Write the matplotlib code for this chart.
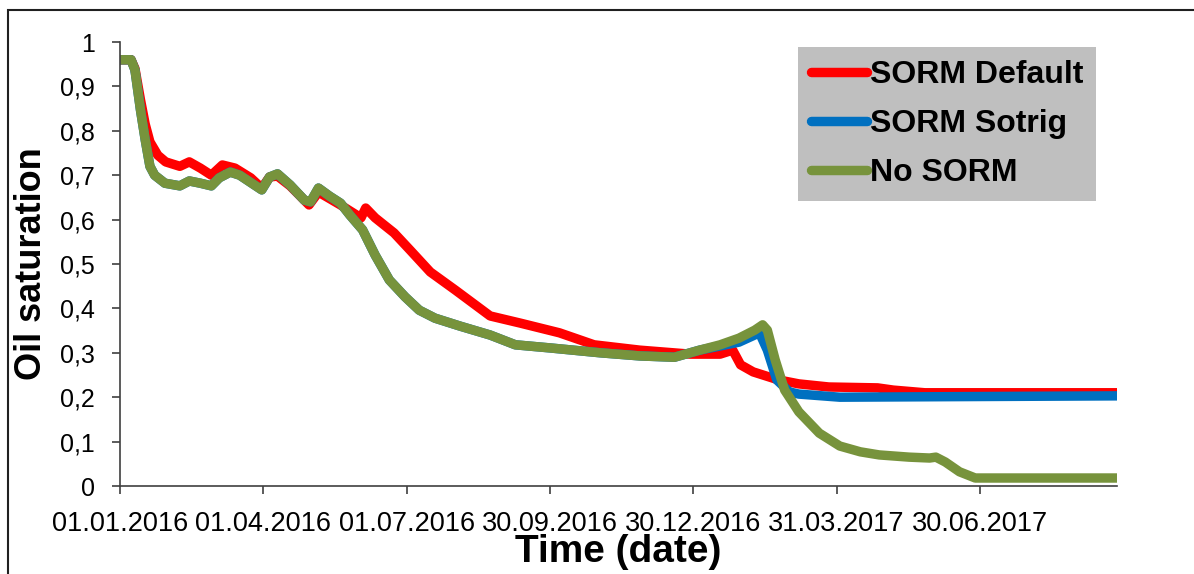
import numpy as np
import matplotlib
matplotlib.use("Agg")
import matplotlib.pyplot as plt
from matplotlib.patches import Rectangle

plt.rcParams['font.family'] = ['Liberation Sans', 'DejaVu Sans']

start = np.datetime64('2016-01-01')

# days since 01.01.2016 and oil saturation for each run
default_days = [0, 7, 9.5, 13, 16, 19, 24, 29, 38, 44, 51, 58, 65, 73, 83, 90, 95, 100, 108,
                120, 126, 140, 153, 156, 162, 174, 184, 197, 213, 235, 254, 279, 301, 330,
                362, 381, 389, 394, 402, 418, 431, 450, 481, 491, 511, 633]
default_vals = [0.96, 0.96, 0.94, 0.87, 0.815, 0.775, 0.745, 0.73, 0.72, 0.73, 0.716, 0.70,
                0.723, 0.716, 0.694, 0.671, 0.696, 0.698, 0.676, 0.633, 0.662, 0.633, 0.604,
                0.626, 0.604, 0.57, 0.532, 0.482, 0.441, 0.383, 0.367, 0.345, 0.318,
                0.306, 0.297, 0.297, 0.306, 0.273, 0.257, 0.239, 0.23, 0.223, 0.221,
                0.216, 0.21, 0.21]

sotrig_days = [0, 7, 9.5, 13, 16, 19, 22, 28.5, 38, 44, 51, 58, 63, 70, 76, 90, 95, 100,
               108, 117, 121, 126, 133, 140, 146, 154, 162, 171, 181, 190, 200, 216,
               235, 251, 273, 305, 330, 352, 368, 393, 406, 411, 417, 425, 431, 457, 633]
sotrig_vals = [0.96, 0.96, 0.937, 0.847, 0.78, 0.72, 0.70, 0.682, 0.676, 0.687, 0.682,
               0.676, 0.694, 0.707, 0.70, 0.667, 0.696, 0.703, 0.678, 0.644, 0.64,
               0.671, 0.653, 0.637, 0.61, 0.577, 0.52, 0.464, 0.426, 0.396, 0.378,
               0.36, 0.34, 0.318, 0.311, 0.30, 0.293, 0.29, 0.306, 0.324, 0.345,
               0.306, 0.239, 0.212, 0.207, 0.20, 0.203]

nosorm_days = [0, 7, 9.5, 13, 16, 19, 22, 28.5, 38, 44, 51, 58, 63, 70, 76, 90, 95, 100,
               108, 117, 121, 126, 133, 140, 146, 154, 162, 171, 181, 190, 200, 216,
               235, 251, 273, 305, 330, 352, 368, 381, 393, 403, 408, 411, 416, 422,
               431, 444, 457, 470, 482, 501, 514, 518, 524, 533, 543, 552, 633]
nosorm_vals = [0.96, 0.96, 0.937, 0.847, 0.78, 0.72, 0.70, 0.682, 0.676, 0.687, 0.682,
               0.676, 0.694, 0.707, 0.70, 0.667, 0.696, 0.703, 0.678, 0.644, 0.64,
               0.671, 0.653, 0.637, 0.61, 0.577, 0.52, 0.464, 0.426, 0.396, 0.378,
               0.36, 0.34, 0.318, 0.311, 0.30, 0.293, 0.29, 0.306, 0.318, 0.333,
               0.351, 0.363, 0.351, 0.284, 0.216, 0.167, 0.119, 0.09, 0.077, 0.07,
               0.065, 0.063, 0.065, 0.054, 0.032, 0.018, 0.018, 0.018]

series_names = ['SORM Default', 'SORM Sotrig', 'No SORM']
series_colors = ['#FF0000', '#0070C0', '#77933C']

tick_labels = ['01.01.2016', '01.04.2016', '01.07.2016', '30.09.2016',
               '30.12.2016', '31.03.2017', '30.06.2017']
y_ticks = [0, 0.1, 0.2, 0.3, 0.4, 0.5, 0.6, 0.7, 0.8, 0.9, 1.0]


def to_dates(days):
    return start + np.round(np.array(days) * 24).astype('timedelta64[h]')


fig = plt.figure(figsize=(11.94, 5.74), dpi=100)
ax = fig.add_axes([120 / 1194, 88 / 574, 997 / 1194, 444 / 574])

for days, vals, name, color in zip([default_days, sotrig_days, nosorm_days],
                                   [default_vals, sotrig_vals, nosorm_vals],
                                   series_names, series_colors):
    ax.plot(to_dates(days), vals, color=color, lw=6.8, label=name,
            solid_joinstyle='round', solid_capstyle='round')

ax.set_ylim(0, 1)
ax.set_xlim(start, start + np.timedelta64(633, 'D'))
ax.set_yticks(y_ticks)
ax.set_yticklabels([('%g' % v).replace('.', ',') for v in y_ticks])
tick_dates = [np.datetime64('%s-%s-%s' % (t[6:], t[3:5], t[0:2])) for t in tick_labels]
ax.set_xticks(tick_dates)
ax.set_xticklabels(tick_labels)

for side in ['top', 'right']:
    ax.spines[side].set_visible(False)
for side in ['left', 'bottom']:
    ax.spines[side].set_color('#404040')
    ax.spines[side].set_linewidth(1.2)
ax.tick_params(axis='both', direction='out', length=6, width=1.2, color='#404040')
ax.tick_params(axis='y', pad=12, labelsize=18)
ax.tick_params(axis='x', pad=12, labelsize=19.5)

ax.set_ylabel('Oil saturation', fontsize=26, fontweight='bold', labelpad=8)
ax.set_xlabel('Time (date)', fontsize=28, fontweight='bold', labelpad=-2)

leg = ax.legend(loc='upper left', bbox_to_anchor=(678 / 997, (486 - 47) / 444),
                prop={'size': 23, 'weight': 'bold'}, frameon=True, fancybox=False,
                handlelength=1.75, handletextpad=0.1, labelspacing=0.6,
                borderpad=0.4, borderaxespad=0)
leg.get_frame().set_facecolor('#BFBFBF')
leg.get_frame().set_edgecolor('none')
leg.get_frame().set_alpha(1)
for line in leg.get_lines():
    line.set_linewidth(6.8)
    line.set_solid_capstyle('round')

# outer chart frame
fig.patches.append(Rectangle((7.5 / 1194, -0.5), 2, 0.5 + (1 - 10 / 574),
                             transform=fig.transFigure, fill=False,
                             edgecolor='#202020', linewidth=1.5))

fig.savefig('out.png', dpi=100)
